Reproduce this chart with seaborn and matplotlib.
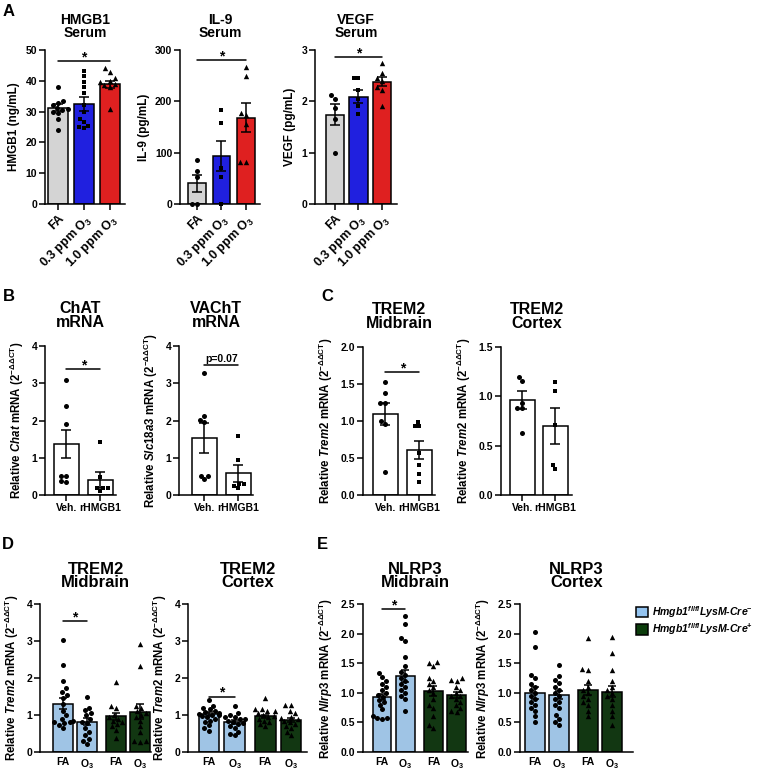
import warnings
warnings.filterwarnings("ignore")
import numpy as np
import pandas as pd
import matplotlib
matplotlib.use("Agg")
import matplotlib.pyplot as plt
from matplotlib.patches import Patch
from matplotlib.ticker import FormatStrFormatter
import seaborn as sns

sns.set_theme(style="ticks")
plt.rcParams['font.family'] = ['Liberation Sans', 'DejaVu Sans']
plt.rcParams['font.weight'] = 'bold'
plt.rcParams['axes.labelweight'] = 'bold'
plt.rcParams['axes.titleweight'] = 'bold'
for k in ('text.color', 'axes.labelcolor', 'xtick.color', 'ytick.color',
          'axes.edgecolor'):
    plt.rcParams[k] = 'black'
plt.rcParams['mathtext.fontset'] = 'custom'
plt.rcParams['mathtext.rm'] = 'Liberation Sans:bold'
plt.rcParams['mathtext.it'] = 'Liberation Sans:italic:bold'
plt.rcParams['mathtext.bf'] = 'Liberation Sans:bold'
plt.rcParams['mathtext.sf'] = 'Liberation Sans:bold'

# ---------------- data ----------------
# Panel A (serum)
A_GROUPS = ["FA", "0.3 ppm O$_3$", "1.0 ppm O$_3$"]
HMGB1_FA = [38.0, 33.3, 32.8, 32.0, 31.2, 30.8, 30.5, 30.0, 29.6, 27.5, 24.0]
HMGB1_O3_LOW = [43.2, 41.6, 39.7, 37.9, 35.9, 32.0, 30.0, 27.5, 26.7, 25.2, 25.0, 24.6]
HMGB1_O3_HIGH = [44.0, 43.0, 41.0, 40.0, 39.5, 39.0, 38.5, 38.0, 31.0]
HMGB1_MEAN = [31.3, 32.4, 38.8]
HMGB1_SEM = [1.2, 2.3, 1.1]

IL9_FA = [85, 65, 52, 0, 0]
IL9_O3_LOW = [183, 158, 70, 53, 0]
IL9_O3_HIGH = [267, 249, 177, 173, 155, 82, 82]
IL9_MEAN = [40, 93, 168]
IL9_SEM = [17, 29, 28]

VEGF_FA = [2.12, 2.05, 1.87, 1.65, 1.0]
VEGF_O3_LOW = [2.45, 2.46, 2.22, 2.05, 1.9, 1.76]
VEGF_O3_HIGH = [2.74, 2.56, 2.45, 2.4, 2.27, 2.23, 1.91]
VEGF_MEAN = [1.74, 2.09, 2.38]
VEGF_SEM = [0.2, 0.13, 0.09]

# Panel B / C (vehicle vs rHMGB1)
BC_GROUPS = ["Veh.", "rHMGB1"]
CHAT_VEH = [3.1, 2.4, 1.9, 0.52, 0.5, 0.37, 0.35]
CHAT_RHMGB1 = [1.43, 0.48, 0.2, 0.2, 0.18, 0.1]
CHAT_MEAN = [1.37, 0.41]
CHAT_SEM = [0.38, 0.22]

VACHT_VEH = [3.27, 2.12, 2.02, 1.95, 0.52, 0.52, 0.43]
VACHT_RHMGB1 = [1.58, 0.93, 0.3, 0.3, 0.25, 0.18]
VACHT_MEAN = [1.54, 0.58]
VACHT_SEM = [0.4, 0.23]

TREM2C_MID_VEH = [1.53, 1.38, 1.25, 1.24, 1.0, 0.96, 0.31]
TREM2C_MID_RHMGB1 = [0.99, 0.93, 0.93, 0.57, 0.4, 0.29, 0.17]
TREM2C_MID_MEAN = [1.1, 0.61]
TREM2C_MID_SEM = [0.15, 0.12]

TREM2C_CTX_VEH = [1.2, 1.16, 0.93, 0.88, 0.88, 0.63]
TREM2C_CTX_RHMGB1 = [1.15, 1.05, 0.71, 0.3, 0.26]
TREM2C_CTX_MEAN = [0.96, 0.70]
TREM2C_CTX_SEM = [0.09, 0.18]

# Panel D / E (genotype x exposure)
DE_GROUPS = ["FA", "O$_3$", "FA", "O$_3$"]
GENOTYPES = [r"Hmgb1$^{fl/fl}$LysM-Cre$^{-}$", r"Hmgb1$^{fl/fl}$LysM-Cre$^{+}$"]

TREM2D_MID_NEG_FA = [3.02, 2.36, 1.93, 1.72, 1.62, 1.55, 1.45, 1.3, 1.12, 1.0, 0.9, 0.83, 0.8, 0.8, 0.78, 0.72, 0.65]
TREM2D_MID_NEG_O3 = [1.48, 1.18, 1.13, 1.05, 1.0, 0.9, 0.82, 0.78, 0.65, 0.55, 0.45, 0.35, 0.3, 0.22]
TREM2D_MID_POS_FA = [1.88, 1.25, 1.2, 1.0, 0.95, 0.9, 0.85, 0.8, 0.75, 0.7, 0.6, 0.37]
TREM2D_MID_POS_O3 = [2.93, 2.32, 1.25, 1.2, 1.1, 1.05, 1.0, 0.95, 0.85, 0.7, 0.55, 0.3, 0.3, 0.28]
TREM2D_MID_MEAN = [1.31, 0.82, 0.96, 1.09]
TREM2D_MID_SEM = [0.15, 0.1, 0.1, 0.2]

TREM2D_CTX_NEG_FA = [1.4, 1.25, 1.2, 1.15, 1.1, 1.08, 1.05, 1.02, 1.0, 1.0, 0.98, 0.95, 0.9, 0.85, 0.8, 0.72, 0.65, 0.58]
TREM2D_CTX_NEG_O3 = [1.25, 1.05, 1.0, 0.95, 0.95, 0.9, 0.88, 0.85, 0.8, 0.78, 0.75, 0.7, 0.65, 0.55, 0.5, 0.45]
TREM2D_CTX_POS_FA = [1.45, 1.15, 1.15, 1.12, 1.1, 1.05, 1.0, 0.98, 0.95, 0.9, 0.85, 0.8, 0.75, 0.7]
TREM2D_CTX_POS_O3 = [1.28, 1.28, 1.1, 1.05, 0.95, 0.92, 0.88, 0.85, 0.8, 0.75, 0.7, 0.65, 0.55, 0.45]
TREM2D_CTX_MEAN = [1.02, 0.82, 0.96, 0.87]
TREM2D_CTX_SEM = [0.05, 0.05, 0.05, 0.05]

NLRP3_MID_NEG_FA = [1.33, 1.26, 1.2, 1.15, 1.1, 1.05, 1.0, 0.97, 0.93, 0.88, 0.85, 0.8, 0.72, 0.6, 0.58, 0.57, 0.56]
NLRP3_MID_NEG_O3 = [2.3, 2.17, 1.93, 1.88, 1.6, 1.45, 1.35, 1.3, 1.25, 1.2, 1.15, 1.1, 1.05, 1.0, 0.95, 0.9, 0.7]
NLRP3_MID_POS_FA = [1.52, 1.5, 1.45, 1.25, 1.2, 1.15, 1.1, 1.05, 1.0, 0.9, 0.8, 0.75, 0.6, 0.45, 0.4]
NLRP3_MID_POS_O3 = [1.25, 1.22, 1.2, 1.1, 1.05, 1.0, 0.95, 0.95, 0.9, 0.85, 0.8, 0.75, 0.7, 0.68]
NLRP3_MID_MEAN = [0.93, 1.28, 1.03, 0.97]
NLRP3_MID_SEM = [0.05, 0.1, 0.08, 0.05]

NLRP3_CTX_NEG_FA = [2.02, 1.78, 1.3, 1.25, 1.15, 1.1, 1.05, 1.0, 0.95, 0.9, 0.85, 0.8, 0.75, 0.7, 0.6, 0.5]
NLRP3_CTX_NEG_O3 = [1.47, 1.28, 1.22, 1.17, 1.1, 1.05, 1.0, 0.95, 0.9, 0.85, 0.8, 0.75, 0.62, 0.55, 0.5, 0.45]
NLRP3_CTX_POS_FA = [1.93, 1.4, 1.38, 1.2, 1.1, 1.05, 1.0, 0.95, 0.9, 0.85, 0.8, 0.7, 0.6]
NLRP3_CTX_POS_O3 = [1.95, 1.68, 1.38, 1.2, 1.1, 1.05, 1.0, 0.95, 0.9, 0.8, 0.7, 0.6, 0.45]
NLRP3_CTX_MEAN = [1.0, 0.96, 1.05, 1.02]
NLRP3_CTX_SEM = [0.1, 0.07, 0.09, 0.09]

# ---------------- style ----------------
GREY, BLUE, RED = "#d4d4d4", "#0000ff", "#ff0000"
LIGHTBLUE, DKGREEN = "#94c4f0", "#0c3d0c"
WHITE = "#ffffff"
LW = 1.1

W, H = 757, 770
fig = plt.figure(figsize=(W / 100, H / 100), dpi=100)


def add_ax(l, t, r, b):
    return fig.add_axes([l / W, 1 - b / H, (r - l) / W, (b - t) / H])


def ylab(gene):
    return "Relative $\\mathit{" + gene + "}$ mRNA (2$^{\\mathrm{-\\Delta\\Delta CT}}$)"


def panel(box, pos, xlim, width, groups, means, sems, samples, markers, colors,
          ylim, yticks, fmt, ylabel, title, title_fs, title_pad, ylabel_fs,
          xlab_fs, ytick_fs=7.5, rot=0, xtick_marks=True, sig=None,
          sig_fs=10, labelpad=4, capsize=3.5):
    ax = add_ax(*box)
    df = pd.DataFrame({"pos": pos, "mean": means,
                       "bar": [str(i) for i in range(len(pos))]})
    sns.barplot(data=df, x="pos", y="mean", hue="bar", palette=colors,
                native_scale=True, width=width, dodge=False, edgecolor="black",
                linewidth=LW, legend=False, errorbar=None, ax=ax, zorder=2)
    for p, pts, m in zip(pos, samples, markers):
        sz = {"o": 3.6, "s": 3.3, "^": 3.9}[m]
        sns.swarmplot(x=np.full(len(pts), float(p)), y=pts, native_scale=True,
                      marker=m, color="black", size=sz,
                      linewidth=0, ax=ax, zorder=3, clip_on=False)
    ax.errorbar(pos, means, yerr=sems, fmt="none", ecolor="black",
                elinewidth=LW, capsize=capsize, capthick=LW, zorder=4)
    ax.set_xlim(*xlim)
    ax.set_ylim(*ylim)
    ax.set_yticks(yticks)
    ax.yaxis.set_major_formatter(FormatStrFormatter(fmt))
    ax.set_xticks(pos)
    if rot:
        ax.set_xticklabels(groups, rotation=rot, ha="right",
                           rotation_mode="anchor", fontsize=xlab_fs,
                           fontweight="bold")
    else:
        ax.set_xticklabels(groups, fontsize=xlab_fs, fontweight="bold")
    for lab in ax.get_yticklabels():
        lab.set_fontweight("bold")
    ax.set_xlabel("")
    ax.set_ylabel(ylabel, fontsize=ylabel_fs, labelpad=labelpad,
                  fontweight="bold")
    sns.despine(ax=ax)
    for s in ("left", "bottom"):
        ax.spines[s].set_linewidth(LW)
        ax.spines[s].set_color("black")
    ax.tick_params(axis="y", direction="out", length=4, width=LW,
                   labelsize=ytick_fs, pad=1.5, color="black",
                   labelcolor="black")
    if xtick_marks:
        ax.tick_params(axis="x", direction="out", length=4, width=LW,
                       pad=2, color="black", labelcolor="black")
    else:
        ax.tick_params(axis="x", length=0, pad=3.5, labelcolor="black")
    ax.set_title(title, fontsize=title_fs, linespacing=0.85, pad=title_pad,
                 fontweight="bold", color="black")
    ax.patch.set_alpha(0)
    if sig:
        for i, j, y, lab in sig:
            ax.plot([pos[i], pos[j]], [y, y], color="black", lw=LW,
                    clip_on=False, zorder=5)
            if lab == "*":
                ax.text((pos[i] + pos[j]) / 2, y, lab, ha="center",
                        va="baseline", fontsize=sig_fs, fontweight="bold")
            else:
                ax.annotate(lab, ((pos[i] + pos[j]) / 2, y), xytext=(0, 1),
                            textcoords="offset points", ha="center",
                            va="bottom", fontsize=7.5, fontweight="bold")
    return ax


A_MK = ["o", "s", "^"]
A_COL = [GREY, BLUE, RED]

# ---------------- Panel A ----------------
panel((45, 50, 125, 204), [0, 1, 2], (-0.5, 2.58), 0.8, A_GROUPS,
      HMGB1_MEAN, HMGB1_SEM, [HMGB1_FA, HMGB1_O3_LOW, HMGB1_O3_HIGH],
      A_MK, A_COL, (0, 50), [0, 10, 20, 30, 40, 50], "%d",
      "HMGB1 (ng/mL)", "HMGB1\nSerum", 10, 9.5, 8.5, 9, rot=45,
      sig=[(0, 2, 46.4, "*")])
panel((180, 50, 260, 204), [0, 1, 2], (-0.69, 2.57), 0.72, A_GROUPS,
      IL9_MEAN, IL9_SEM, [IL9_FA, IL9_O3_LOW, IL9_O3_HIGH],
      A_MK, A_COL, (0, 300), [0, 100, 200, 300], "%d",
      "IL-9 (pg/mL)", "IL-9\nSerum", 10, 9.5, 8.5, 9, rot=45,
      sig=[(0, 2, 280, "*")])
panel((315, 50, 397, 204), [0, 1, 2], (-0.86, 2.65), 0.78, A_GROUPS,
      VEGF_MEAN, VEGF_SEM, [VEGF_FA, VEGF_O3_LOW, VEGF_O3_HIGH],
      A_MK, A_COL, (0, 3), [0, 1, 2, 3], "%d",
      "VEGF (pg/mL)", "VEGF\nSerum", 10, 9.5, 8.5, 9, rot=45,
      sig=[(0, 2, 2.86, "*")])

# ---------------- Panel B ----------------
BC_MK = ["o", "s"]
BC_COL = [WHITE, WHITE]
panel((45, 346, 116, 495), [0, 1], (-0.63, 1.46), 0.74, BC_GROUPS,
      CHAT_MEAN, CHAT_SEM, [CHAT_VEH, CHAT_RHMGB1], BC_MK, BC_COL,
      (0, 4), [0, 1, 2, 3, 4], "%d", ylab("Chat"), "ChAT\nmRNA",
      11.5, 14, 8.3, 7.5, sig=[(0, 1, 3.38, "*")])
panel((179, 346, 253, 495), [0, 1], (-0.75, 1.43), 0.73, BC_GROUPS,
      VACHT_MEAN, VACHT_SEM, [VACHT_VEH, VACHT_RHMGB1], BC_MK, BC_COL,
      (0, 4), [0, 1, 2, 3, 4], "%d", ylab("Slc18a3"), "VAChT\nmRNA",
      11.5, 14, 8.3, 7.5, sig=[(0, 1, 3.49, "p=0.07")])

# ---------------- Panel C ----------------
panel((363, 347, 435, 495), [0, 1], (-0.66, 1.46), 0.74, BC_GROUPS,
      TREM2C_MID_MEAN, TREM2C_MID_SEM, [TREM2C_MID_VEH, TREM2C_MID_RHMGB1],
      BC_MK, BC_COL, (0, 2.0), [0, 0.5, 1.0, 1.5, 2.0], "%.1f",
      ylab("Trem2"), "TREM2\nMidbrain", 11.5, 14, 8.3, 7.5,
      sig=[(0, 1, 1.66, "*")])
panel((501, 347, 572, 495), [0, 1], (-0.65, 1.5), 0.76, BC_GROUPS,
      TREM2C_CTX_MEAN, TREM2C_CTX_SEM, [TREM2C_CTX_VEH, TREM2C_CTX_RHMGB1],
      BC_MK, BC_COL, (0, 1.5), [0, 0.5, 1.0, 1.5], "%.1f",
      ylab("Trem2"), "TREM2\nCortex", 11.5, 14, 8.3, 7.5)

# ---------------- Panel D / E ----------------
DE_POS = [0, 1, 2.2, 3.2]
DE_MK = ["o", "o", "^", "^"]
DE_COL = [LIGHTBLUE, LIGHTBLUE, DKGREEN, DKGREEN]
panel((40, 604, 151, 752), DE_POS, (-0.96, 3.66), 0.85, DE_GROUPS,
      TREM2D_MID_MEAN, TREM2D_MID_SEM,
      [TREM2D_MID_NEG_FA, TREM2D_MID_NEG_O3, TREM2D_MID_POS_FA, TREM2D_MID_POS_O3],
      DE_MK, DE_COL, (0, 4), [0, 1, 2, 3, 4], "%d", ylab("Trem2"),
      "TREM2\nMidbrain", 12, 12, 8.3, 7.5, xtick_marks=False,
      sig=[(0, 1, 3.53, "*")], capsize=3)
panel((188, 604, 307, 752), DE_POS, (-0.82, 3.83), 0.8, DE_GROUPS,
      TREM2D_CTX_MEAN, TREM2D_CTX_SEM,
      [TREM2D_CTX_NEG_FA, TREM2D_CTX_NEG_O3, TREM2D_CTX_POS_FA, TREM2D_CTX_POS_O3],
      DE_MK, DE_COL, (0, 4), [0, 1, 2, 3, 4], "%d", ylab("Trem2"),
      "TREM2\nCortex", 12, 12, 8.3, 7.5, xtick_marks=False,
      sig=[(0, 1, 1.49, "*")], capsize=3)
panel((363, 604, 468, 752), DE_POS, (-0.81, 3.68), 0.8, DE_GROUPS,
      NLRP3_MID_MEAN, NLRP3_MID_SEM,
      [NLRP3_MID_NEG_FA, NLRP3_MID_NEG_O3, NLRP3_MID_POS_FA, NLRP3_MID_POS_O3],
      DE_MK, DE_COL, (0, 2.5), [0, 0.5, 1.0, 1.5, 2.0, 2.5], "%.1f",
      ylab("Nlrp3"), "NLRP3\nMidbrain", 12, 12, 8.3, 7.5, xtick_marks=False,
      sig=[(0, 1, 2.41, "*")], capsize=3)
panel((520, 604, 633, 752), DE_POS, (-0.63, 4.08), 0.85, DE_GROUPS,
      NLRP3_CTX_MEAN, NLRP3_CTX_SEM,
      [NLRP3_CTX_NEG_FA, NLRP3_CTX_NEG_O3, NLRP3_CTX_POS_FA, NLRP3_CTX_POS_O3],
      DE_MK, DE_COL, (0, 2.5), [0, 0.5, 1.0, 1.5, 2.0, 2.5], "%.1f",
      ylab("Nlrp3"), "NLRP3\nCortex", 12, 12, 8.3, 7.5, xtick_marks=False,
      capsize=3)

handles = [Patch(facecolor=LIGHTBLUE, edgecolor="black", linewidth=LW, label=GENOTYPES[0]),
           Patch(facecolor=DKGREEN, edgecolor="black", linewidth=LW, label=GENOTYPES[1])]
fig.legend(handles=handles, loc="upper left", bbox_to_anchor=(636 / W, 1 - 604 / H),
           frameon=False, prop={"style": "italic", "weight": "bold", "size": 7.6},
           handlelength=1.15, handleheight=1.15, handletextpad=0.35,
           labelspacing=0.15, borderpad=0, borderaxespad=0)

# panel letters
for lx, ly, lab in [(3, 4, "A"), (3, 289, "B"), (321, 289, "C"),
                    (2, 537, "D"), (317, 537, "E")]:
    fig.text(lx / W, 1 - ly / H, lab, fontsize=12, fontweight="bold",
             va="top", ha="left")

fig.savefig("out.png", dpi=100)
